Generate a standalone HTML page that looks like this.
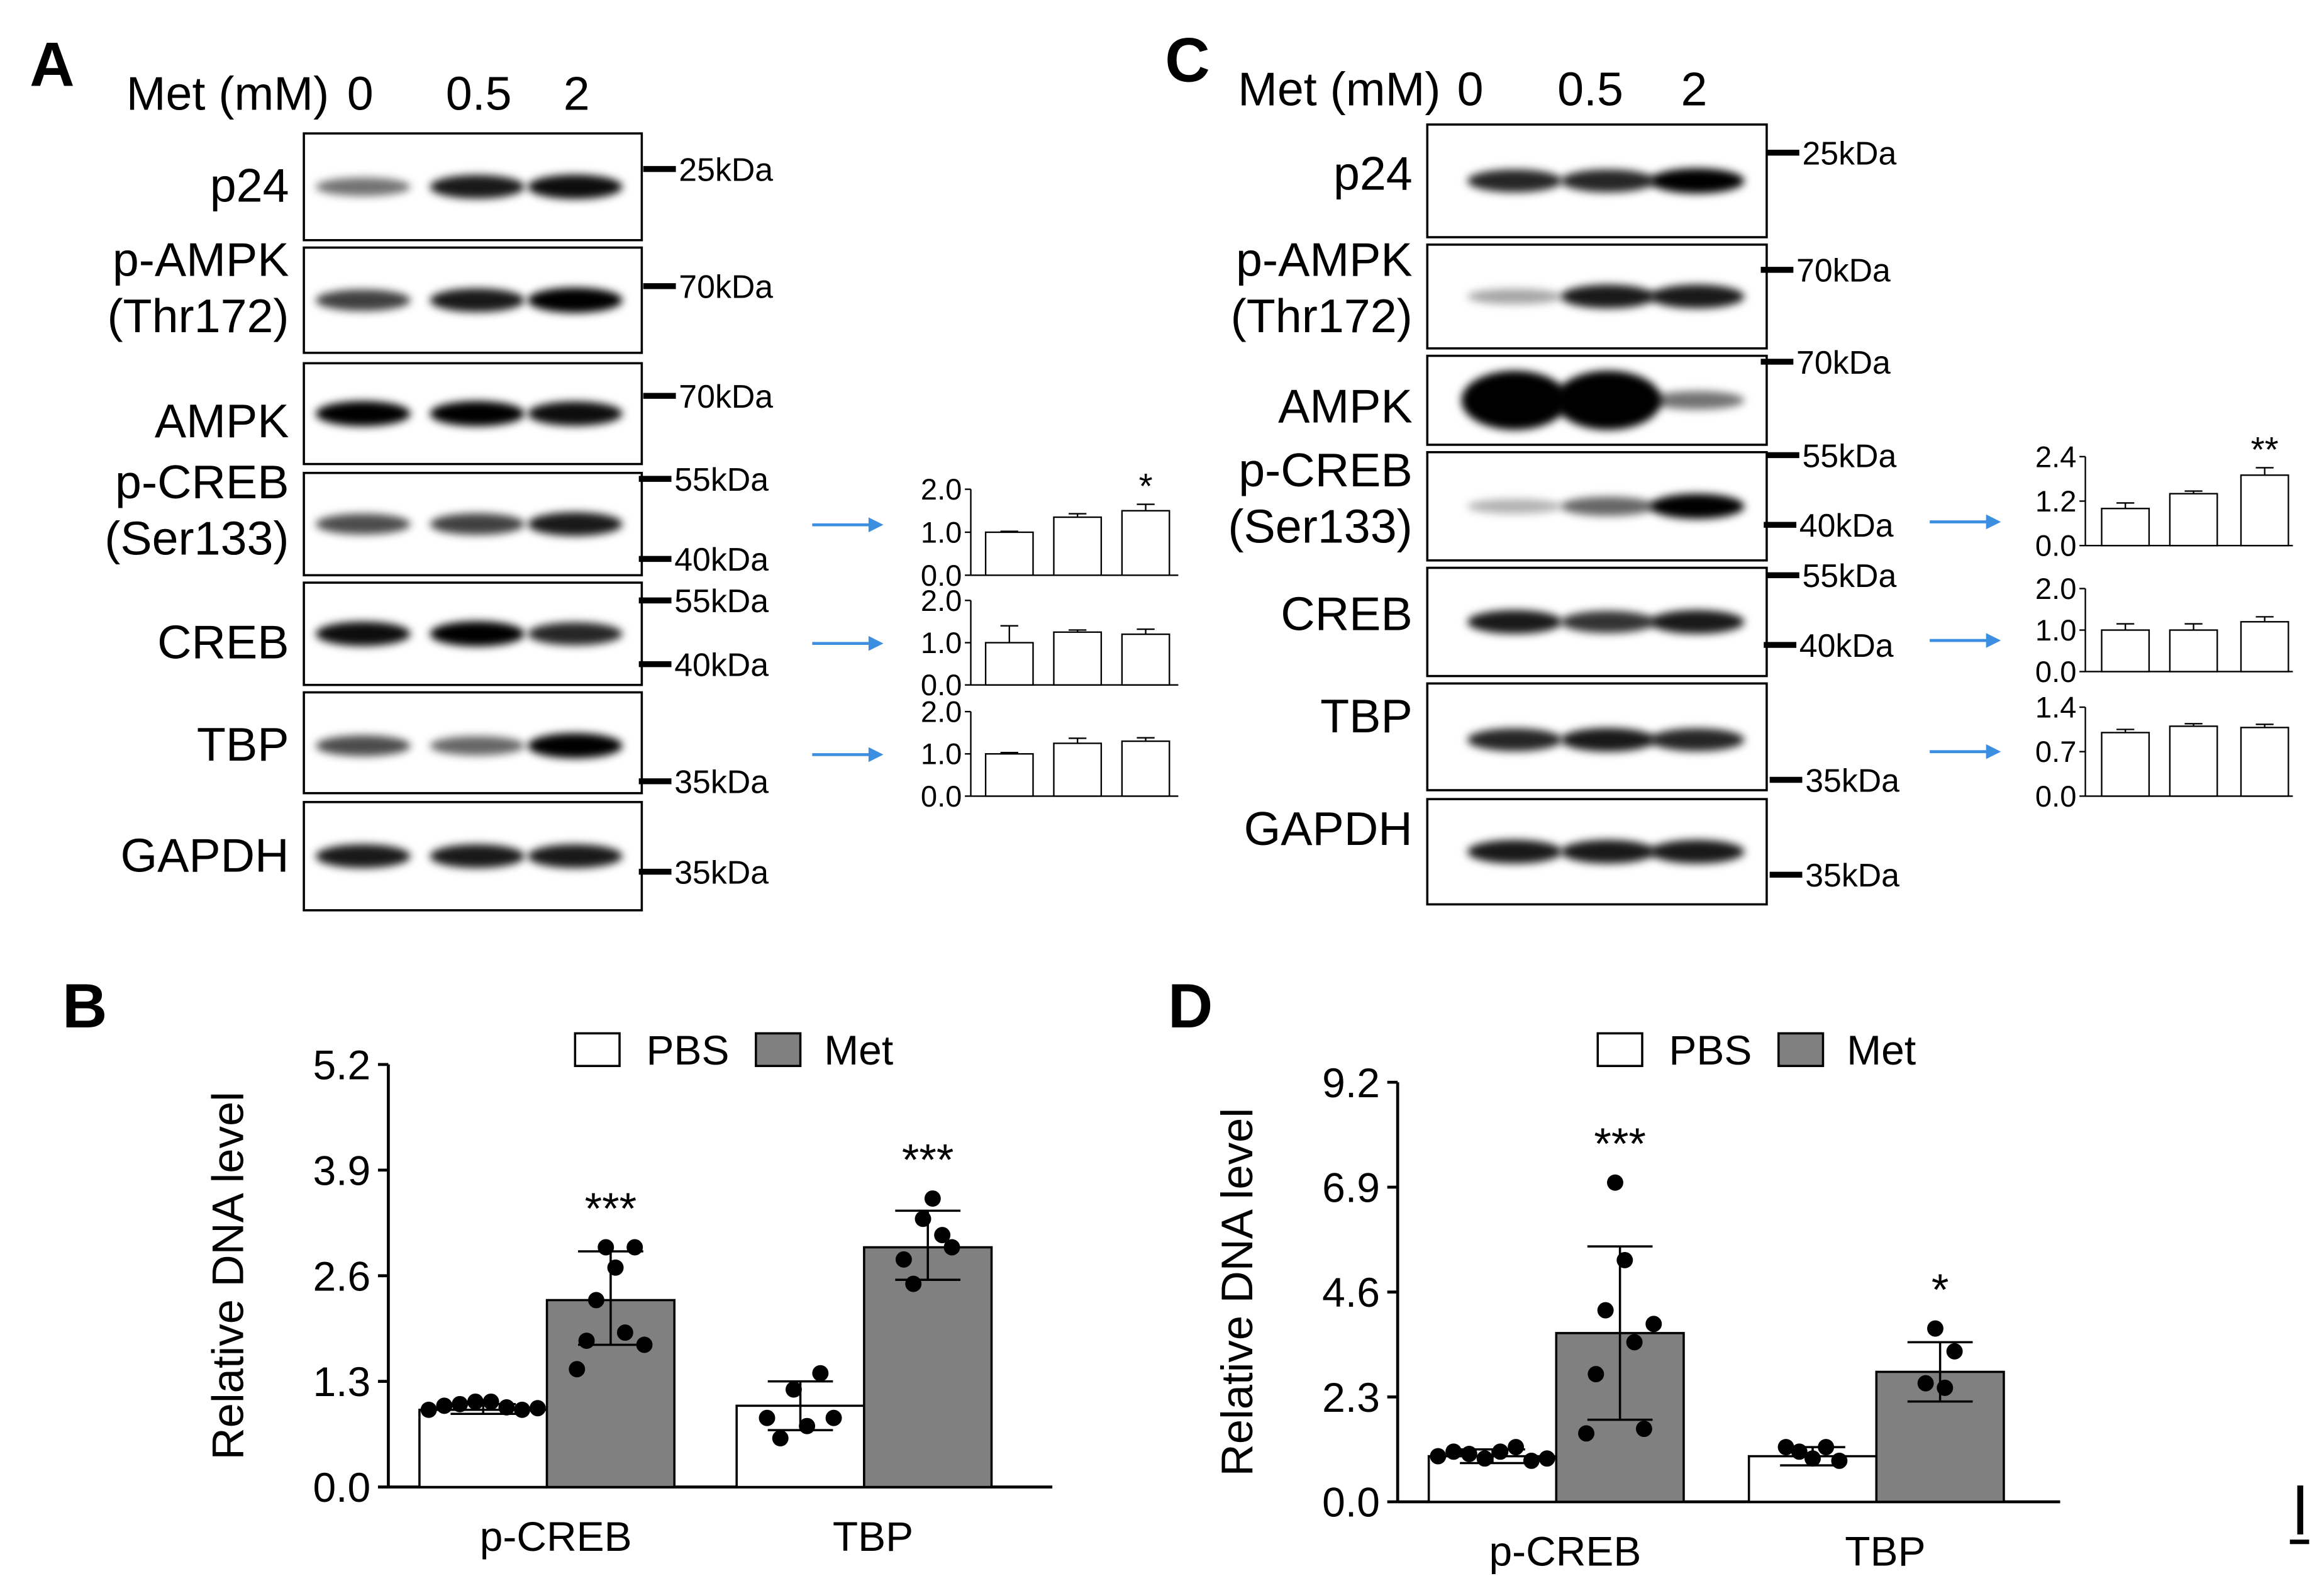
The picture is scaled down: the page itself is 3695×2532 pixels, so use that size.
<!DOCTYPE html>
<html><head><meta charset="utf-8"><style>
html,body{margin:0;padding:0;background:#fff}
svg{display:block;font-family:"Liberation Sans",Arial,sans-serif}
</style></head><body>
<svg id="fig" width="3695" height="2532" viewBox="0 0 1568 1074.5" xmlns="http://www.w3.org/2000/svg">
<defs>
<filter id="blur" x="-50%" y="-100%" width="200%" height="300%"><feGaussianBlur stdDeviation="2.8"/></filter>
</defs>
<rect width="1568" height="1075" fill="#fff"/>
<g id="root"></g>
</svg>
<script>
const NS='http://www.w3.org/2000/svg';
const root=document.getElementById('root');
function el(tag,attrs,parent,text){const e=document.createElementNS(NS,tag);for(const k in attrs)e.setAttribute(k,attrs[k]);if(text!==undefined)e.textContent=text;(parent||root).appendChild(e);return e;}

// ---------- data ----------
const laneLabels=['0','0.5','2'];
const blotRowsA=['p24','p-AMPK|(Thr172)','AMPK','p-CREB|(Ser133)','CREB','TBP','GAPDH'];
const bandsA=[[0.55,0.9,0.95],[0.75,0.9,1],[1,1,0.95],[0.7,0.75,0.9],[0.95,1,0.85],[0.7,0.6,1],[0.9,0.9,0.9]];
const bandsC=[[0.85,0.85,1],[0.35,0.9,0.9],[1,1,0.55],[0.3,0.6,1],[0.9,0.8,0.9],[0.85,0.9,0.85],[0.9,0.9,0.9]];
const smallA=[[1.0,1.35,1.5],[1.0,1.25,1.2],[1.0,1.25,1.3]];
const smallAerr=[[0.02,0.08,0.15],[0.4,0.05,0.12],[0.03,0.12,0.08]];
const smallAmax=[2,2,2];
const smallAticks=[['0.0','1.0','2.0'],['0.0','1.0','2.0'],['0.0','1.0','2.0']];
const smallC=[[1.0,1.4,1.9],[1.0,1.0,1.2],[1.0,1.1,1.08]];
const smallCerr=[[0.15,0.07,0.2],[0.15,0.15,0.12],[0.05,0.04,0.05]];
const smallCmax=[2.4,2,1.4];
const smallCticks=[['0.0','1.2','2.4'],['0.0','1.0','2.0'],['0.0','0.7','1.4']];
const categories=['p-CREB','TBP'];
const bTicks=['0.0','1.3','2.6','3.9','5.2'];
const bMeans=[[0.95,2.3],[1.0,2.95]];
const bErr=[[[0.9,1.02],[1.75,2.9]],[[0.7,1.3],[2.55,3.4]]];
const bDots=[[[0.95,1.0,1.02,1.05,1.05,0.98,0.95,0.97],[1.45,1.8,2.3,2.95,2.7,1.9,2.95,1.75]],[[0.85,0.6,1.2,0.75,1.4,0.85],[2.8,2.5,3.3,3.55,3.1,2.95]]];
const bStars=['***','***'];
const dTicks=['0.0','2.3','4.6','6.9','9.2'];
const dMeans=[[1.0,3.7],[1.0,2.85]];
const dErr=[[[0.85,1.15],[1.8,5.6]],[[0.8,1.2],[2.2,3.5]]];
const dDots=[[[1.0,1.1,1.05,0.95,1.1,1.2,0.9,0.95],[1.5,2.8,4.2,7.0,5.3,3.5,1.6,3.9]],[[1.2,1.1,0.95,1.2,0.9],[2.6,3.8,2.5,3.3]]];
const dStars=['***','*'];

// ---------- blots ----------
const lanes2={A:[245,322,388],C:[1022,1085,1145]};
function blotPanel(letter,lx,ly,labelX,lanes,x0,x1,rows,bands,kdas,labelYs){
  el('text',{x:lx,y:ly,'font-size':42,'font-weight':'bold',},root,letter);
  el('text',{x:labelX,y:ly+16,'font-size':32,'text-anchor':'end',},root,'Met (mM)');
  lanes.forEach((lx2,i)=>el('text',{x:lx2,y:ly+16,'font-size':32,'text-anchor':'middle',},root,laneLabels[i]));
  rows.forEach((r,ri)=>{
    const g=el('g',{});
    el('rect',{x:x0,y:r[0],width:x1-x0,height:r[1]-r[0],fill:'#fff',stroke:'#000','stroke-width':1.5},g);
    const cy=(r[0]+r[1])/2+ (ri==5?2:0);
    bands[ri].forEach((v,i)=>{
      const big=(letter=='C'&&ri==2&&i<2);
      el('ellipse',{cx:lanes2[letter][i],cy:cy,rx:big?36:32,ry:big?20:(3.5+5*v),fill:'#000','fill-opacity':v,filter:'url(#blur)'},g);
    });
    const parts=blotRowsA[ri].split('|');
    parts.forEach((p,pi)=>el('text',{x:x0-10,y:labelYs[ri]+pi*38-(parts.length-1)*19,'font-size':32,'text-anchor':'end',},g,p));
  });
  kdas.forEach(k=>{
    el('line',{x1:k[0],y1:k[1],x2:k[0]+22,y2:k[1],stroke:'#000','stroke-width':4},root);
    el('text',{x:k[0]+24,y:k[1]+8,'font-size':22,},root,k[2]);
  });
}
blotPanel('A',20,58,222,[243,323,389],205,433,
 [[90,162],[167,238],[245,313],[319,388],[393,462],[467,535],[541,614]],bandsA,
 [[434,114,'25kDa'],[434,193,'70kDa'],[434,267,'70kDa'],[431,323,'55kDa'],[431,377,'40kDa'],[431,405,'55kDa'],[431,448,'40kDa'],[431,527,'35kDa'],[431,588,'35kDa']],
 [136,205,295,355,444,513,588]);
blotPanel('C',786,55,972,[992,1073,1143],963,1192,
 [[84,160],[165,235],[240,300],[305,378],[383,456],[461,533],[539,610]],bandsC,
 [[1192,103,'25kDa'],[1188,182,'70kDa'],[1188,244,'70kDa'],[1192,307,'55kDa'],[1190,354,'40kDa'],[1192,388,'55kDa'],[1190,435,'40kDa'],[1194,526,'35kDa'],[1194,590,'35kDa']],
 [128,205,285,347,425,494,570]);

// ---------- small bar charts ----------
function smallChart(name,ax,yTop,yBot,bx,vals,errs,max,ticks,star){
  const g=el('g',{});
  const ys=v=>yBot-v/max*(yBot-yTop);
  el('line',{x1:ax,y1:yTop,x2:ax,y2:yBot,stroke:'#000','stroke-width':1},g);
  el('line',{x1:ax,y1:yBot,x2:ax+140,y2:yBot,stroke:'#000','stroke-width':1},g);
  ticks.forEach(t=>{const y=ys(parseFloat(t));
    el('line',{x1:ax-4,y1:y,x2:ax,y2:y,stroke:'#000'},g);
    el('text',{x:ax-6,y:y+7,'font-size':20,'text-anchor':'end',},g,t);});
  vals.forEach((v,i)=>{
    const x=bx[i];
    el('line',{x1:x+16,y1:ys(v),x2:x+16,y2:ys(v+errs[i]),stroke:'#000'},g);
    el('line',{x1:x+10,y1:ys(v+errs[i]),x2:x+22,y2:ys(v+errs[i]),stroke:'#000'},g);
    const b=el('rect',{x:x,y:ys(v),width:32,height:yBot-ys(v),fill:'#fff',stroke:'#000','stroke-width':1},g);
    
    
  });
  if(star) el('text',{x:bx[2]+16,y:ys(vals[2]+errs[2])-4,'font-size':24,'text-anchor':'middle'},g,star);
}
function arrow(x1,x2,y){
  const g=el('g',{});
  el('line',{x1:x1,y1:y,x2:x2-8,y2:y,stroke:'#3b8ee0','stroke-width':2},g);
  el('polygon',{points:`${x2},${y} ${x2-10},${y-5} ${x2-10},${y+5}`,fill:'#3b8ee0'},g);
}
const bxA=[665,711,757],bxC=[1418,1464,1512];
[[330,388],[405,462],[480,537]].forEach((r,i)=>smallChart('quant-a-'+i,655,r[0],r[1],bxA,smallA[i],smallAerr[i],smallAmax[i],smallAticks[i],i==0?'*':null));
[[308,368],[397,453],[477,537]].forEach((r,i)=>smallChart('quant-c-'+i,1407,r[0],r[1],bxC,smallC[i],smallCerr[i],smallCmax[i],smallCticks[i],i==0?'**':null));
arrow(548,596,354);arrow(548,596,434);arrow(548,596,509);
arrow(1302,1350,352);arrow(1302,1350,432);arrow(1302,1350,507);

// ---------- big bar charts ----------
function bigChart(letter,lx,ly,ax,yTop,yBot,xEnd,groupX,ticks,means,errs,dots,stars,legX,legY){
  const g=el('g',{});
  el('text',{x:lx,y:ly,'font-size':42,'font-weight':'bold',},root,letter);
  const max=parseFloat(ticks[ticks.length-1]);
  const ys=v=>yBot-v/max*(yBot-yTop);
  el('line',{x1:ax,y1:yTop,x2:ax,y2:yBot,stroke:'#000','stroke-width':2},g);
  el('line',{x1:ax,y1:yBot,x2:xEnd,y2:yBot,stroke:'#000','stroke-width':2},g);
  ticks.forEach(t=>{const y=ys(parseFloat(t));
    el('line',{x1:ax-7,y1:y,x2:ax,y2:y,stroke:'#000','stroke-width':2},g);
    el('text',{x:ax-12,y:y+10,'font-size':28,'text-anchor':'end',},g,t);});
  el('text',{x:0,y:0,'font-size':30,'text-anchor':'middle',transform:`translate(${ax-98},${(yTop+yBot)/2}) rotate(-90)`,},g,'Relative DNA level');
  categories.forEach((c,ci)=>{
    const gx=groupX[ci];
    [0,1].forEach(s=>{
      const x=gx+s*86, v=means[ci][s];
      const b=el('rect',{x:x,y:ys(v),width:86,height:yBot-ys(v),fill:s?'#808080':'#fff',stroke:'#000','stroke-width':1.5},g);
      
      
      const cx=x+43;const e=errs[ci][s];
      el('line',{x1:cx,y1:ys(e[0]),x2:cx,y2:ys(e[1]),stroke:'#000','stroke-width':1.5},g);
      [e[0],e[1]].forEach(ev=>el('line',{x1:cx-22,y1:ys(ev),x2:cx+22,y2:ys(ev),stroke:'#000','stroke-width':1.5},g));
      const d=dots[ci][s];
      d.forEach((dv,di)=>{
        const n=d.length;const dx=n>1?(di-(n-1)/2)*(s?6.5:(n>6?10.5:9)):0;
        const p=el('circle',{cx:cx+dx,cy:ys(dv),r:5.5,fill:'#000'},g);
        
        
      });
    });
    const topV=Math.max(errs[ci][1][1],...dots[ci][1]);
    el('text',{x:gx+86+43,y:ys(topV)-16,'font-size':30,'text-anchor':'middle',},g,stars[ci]);
    el('text',{x:gx+92,y:yBot+43,'font-size':28,'text-anchor':'middle',},g,c);
  });
  const lg=el('g',{});
  el('rect',{x:legX,y:legY-11,width:30,height:22,fill:'#fff',stroke:'#000','stroke-width':1.5},lg);
  el('text',{x:legX+48,y:legY+10,'font-size':28},lg,'PBS');
  el('rect',{x:legX+122,y:legY-11,width:30,height:22,fill:'#808080',stroke:'#000','stroke-width':1.5},lg);
  el('text',{x:legX+168,y:legY+10,'font-size':28},lg,'Met');
}
bigChart('B',42,693,262,718,1003,710,[283,497],bTicks,bMeans,bErr,bDots,bStars,388,708);
bigChart('D',788,693,943,730,1013,1390,[964,1180],dTicks,dMeans,dErr,dDots,dStars,1078,708);
el('line',{x1:1552,y1:1002,x2:1552,y2:1035,stroke:'#000','stroke-width':4});
el('line',{x1:1545,y1:1040,x2:1558,y2:1040,stroke:'#000','stroke-width':3});
</script>
</body></html>
